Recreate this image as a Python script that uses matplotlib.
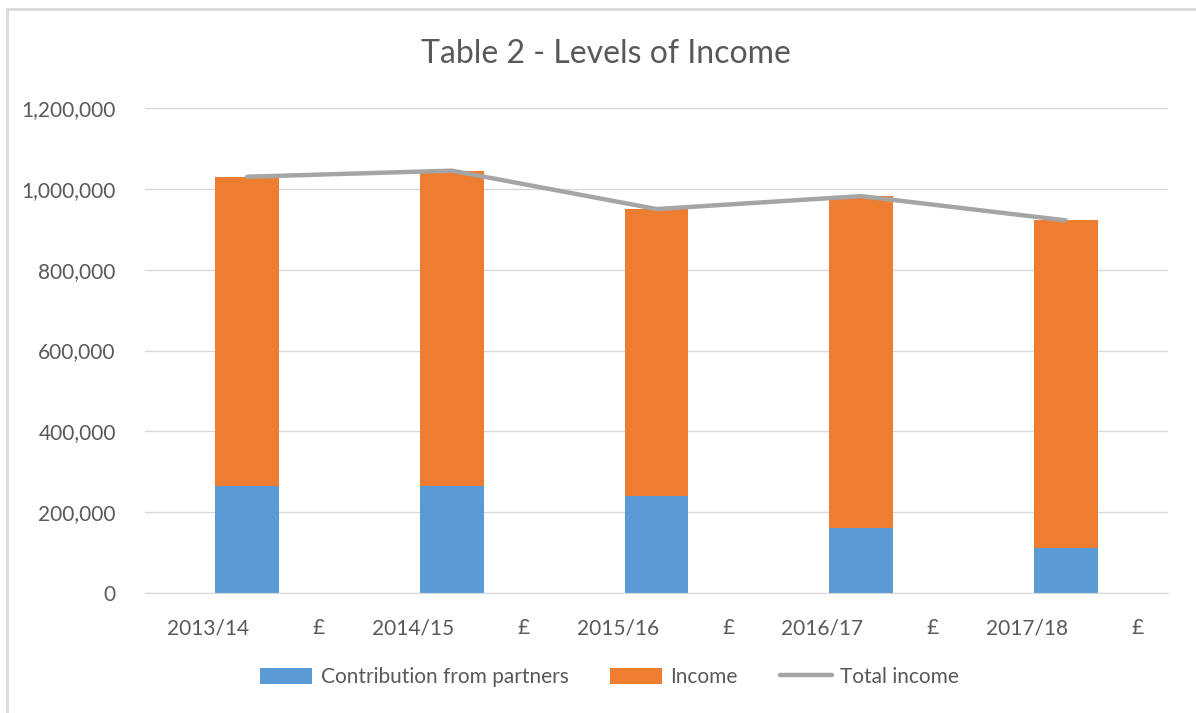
import numpy as np
import matplotlib
matplotlib.use("Agg")
import matplotlib.pyplot as plt
from matplotlib.ticker import FuncFormatter, MultipleLocator

# data --------------------------------------------------------------------
categories = ["2013/14", "£", "2014/15", "£", "2015/16", "£", "2016/17", "£", "2017/18", "£"]
years = ["2013/14", "2014/15", "2015/16", "2016/17", "2017/18"]
partners = [265000, 265000, 240000, 162000, 112000]
total_income = [1030000, 1045000, 950000, 982000, 922000]
income = [t - p for t, p in zip(total_income, partners)]

BLUE = "#5B9BD5"
ORANGE = "#ED7D31"
GREY = "#A5A5A5"
TEXT = "#595959"
GRID = "#D9D9D9"

plt.rcParams["font.family"] = ["Lato", "DejaVu Sans"]

fig = plt.figure(figsize=(11.96, 7.13), dpi=100)
ax = fig.add_axes([0.1212, 0.1683, 0.8554, 0.6802])

cat_x = np.arange(len(categories))
# bars sit on the boundary after each year category
bar_x = np.array([categories.index(y) for y in years]) + 0.5

b1 = ax.bar(bar_x, partners, width=0.625, color=BLUE, label="Contribution from partners", zorder=2)
b2 = ax.bar(bar_x, income, width=0.625, bottom=partners, color=ORANGE, label="Income", zorder=2)
l1, = ax.plot(bar_x, total_income, color=GREY, lw=3.2, solid_capstyle="round",
              solid_joinstyle="round", label="Total income", zorder=3)

ax.set_xlim(-0.5, len(categories) - 0.5)
ax.set_ylim(0, 1200000)
ax.yaxis.set_major_locator(MultipleLocator(200000))
ax.yaxis.set_major_formatter(FuncFormatter(lambda v, p: f"{int(v):,}"))
ax.grid(axis="y", color=GRID, lw=1, zorder=0)

tick_shift = [0.2 if c == "£" else 0.12 for c in categories]
ax.set_xticks(cat_x + np.array(tick_shift))
ax.set_xticklabels(categories)

for s in ["top", "right", "left"]:
    ax.spines[s].set_visible(False)
ax.spines["bottom"].set_color(GRID)
ax.tick_params(axis="both", length=0, colors=TEXT, labelsize=15)
ax.tick_params(axis="y", pad=21)
ax.tick_params(axis="x", pad=18)

fig.text(0.507, 1 - 54 / 713, "Table 2 - Levels of Income", ha="center", va="center",
         fontsize=23, color=TEXT)

fig.legend(handles=[b1, b2, l1], loc="center", bbox_to_anchor=(0.5096, 0.0505), ncol=3,
           frameon=False, fontsize=15, labelcolor=TEXT, handlelength=2.5, handleheight=0.8,
           handletextpad=0.4, columnspacing=2.0)

# light chart-area border (left and top visible in the reference)
fig.add_artist(plt.Line2D([7 / 1196, 7 / 1196], [0, 1 - 9 / 713], transform=fig.transFigure,
                          color=GRID, lw=2))
fig.add_artist(plt.Line2D([7 / 1196, 1], [1 - 9 / 713, 1 - 9 / 713], transform=fig.transFigure,
                          color=GRID, lw=2))

fig.savefig("out.png", dpi=100)
